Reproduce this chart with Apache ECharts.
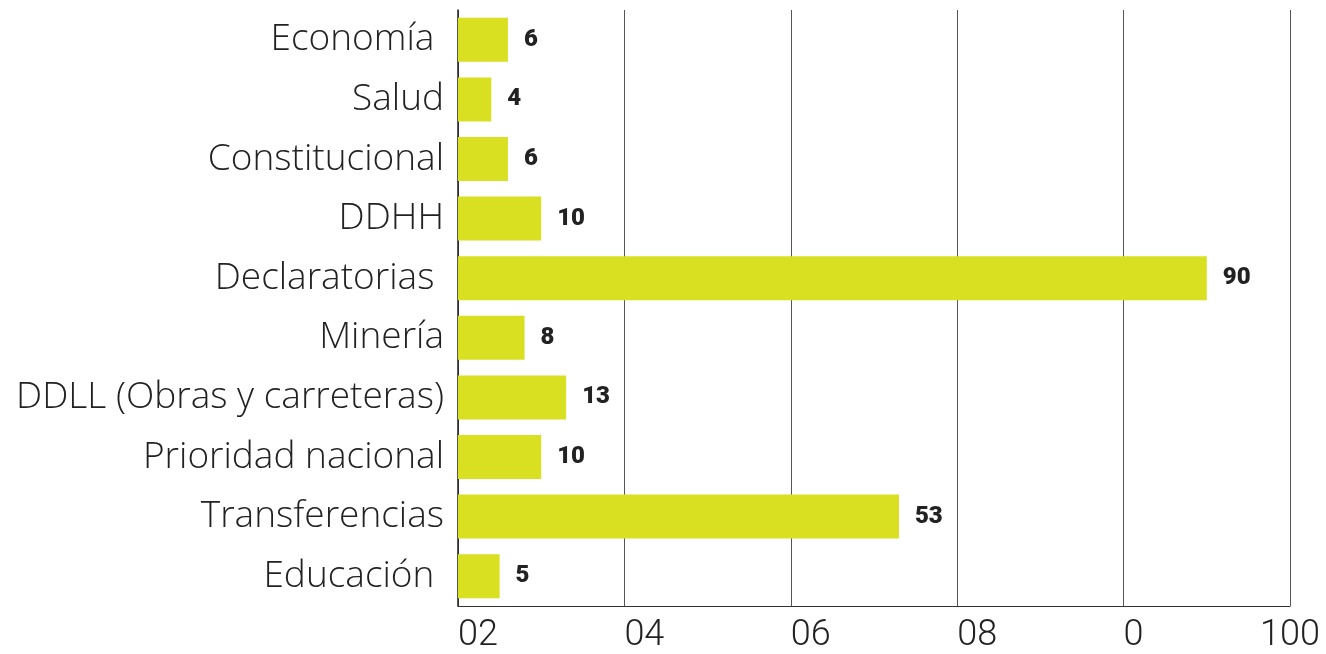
<!DOCTYPE html>
<html>
<head>
<meta charset="utf-8">
<script src="https://cdn.jsdelivr.net/npm/echarts@6/dist/echarts.min.js"></script>
<style>
  html, body { margin: 0; padding: 0; background: #fff; }
  #chart { width: 1326px; height: 654px; }
</style>
</head>
<body>
<div id="chart"></div>
<script>
// categories top to bottom, as printed (some keep a trailing space)
var categories = ['Economía ', 'Salud', 'Constitucional', 'DDHH', 'Declaratorias ',
    'Minería', 'DDLL (Obras y carreteras)', 'Prioridad nacional', 'Transferencias', 'Educación '];
var values = [6, 4, 6, 10, 90, 8, 13, 10, 53, 5];
// tick labels as they appear under the grid lines at 0, 20, 40, 60, 80, 100
var tickValues = [0, 20, 40, 60, 80, 100];
var tickLabels = ['02', '04', '06', '08', '0', '100'];

var chart = echarts.init(document.getElementById('chart'));
chart.setOption({
    backgroundColor: '#fff',
    animation: false,
    grid: { left: 458, right: 36, top: 10, bottom: 46, containLabel: false },
    xAxis: {
        type: 'value',
        min: 0,
        max: 100,
        interval: 20,
        axisLine: { show: true, lineStyle: { color: '#333', width: 1 } },
        axisTick: { show: false },
        splitLine: { show: true, lineStyle: { color: '#555', width: 1 } },
        axisLabel: {
            margin: 12,
            align: 'left',
            alignMaxLabel: 'center',
            fontFamily: 'Roboto',
            fontWeight: 300,
            fontSize: 36,
            color: '#222',
            formatter: function (v) {
                var i = tickValues.indexOf(v);
                return i >= 0 ? tickLabels[i] : '';
            }
        }
    },
    yAxis: {
        type: 'category',
        inverse: true,
        data: categories,
        axisLine: { show: true, lineStyle: { color: '#222', width: 1.5 } },
        axisTick: { show: false },
        axisLabel: {
            margin: 14,
            fontFamily: 'Open Sans',
            fontWeight: 300,
            fontSize: 37,
            color: '#222'
        }
    },
    series: [{
        type: 'bar',
        data: values,
        barWidth: 44,
        itemStyle: { color: '#d8e021' },
        label: {
            show: true,
            position: 'right',
            distance: 16,
            fontFamily: 'Roboto',
            fontWeight: 900,
            fontSize: 24,
            color: '#222'
        }
    }]
});
</script>
</body>
</html>
